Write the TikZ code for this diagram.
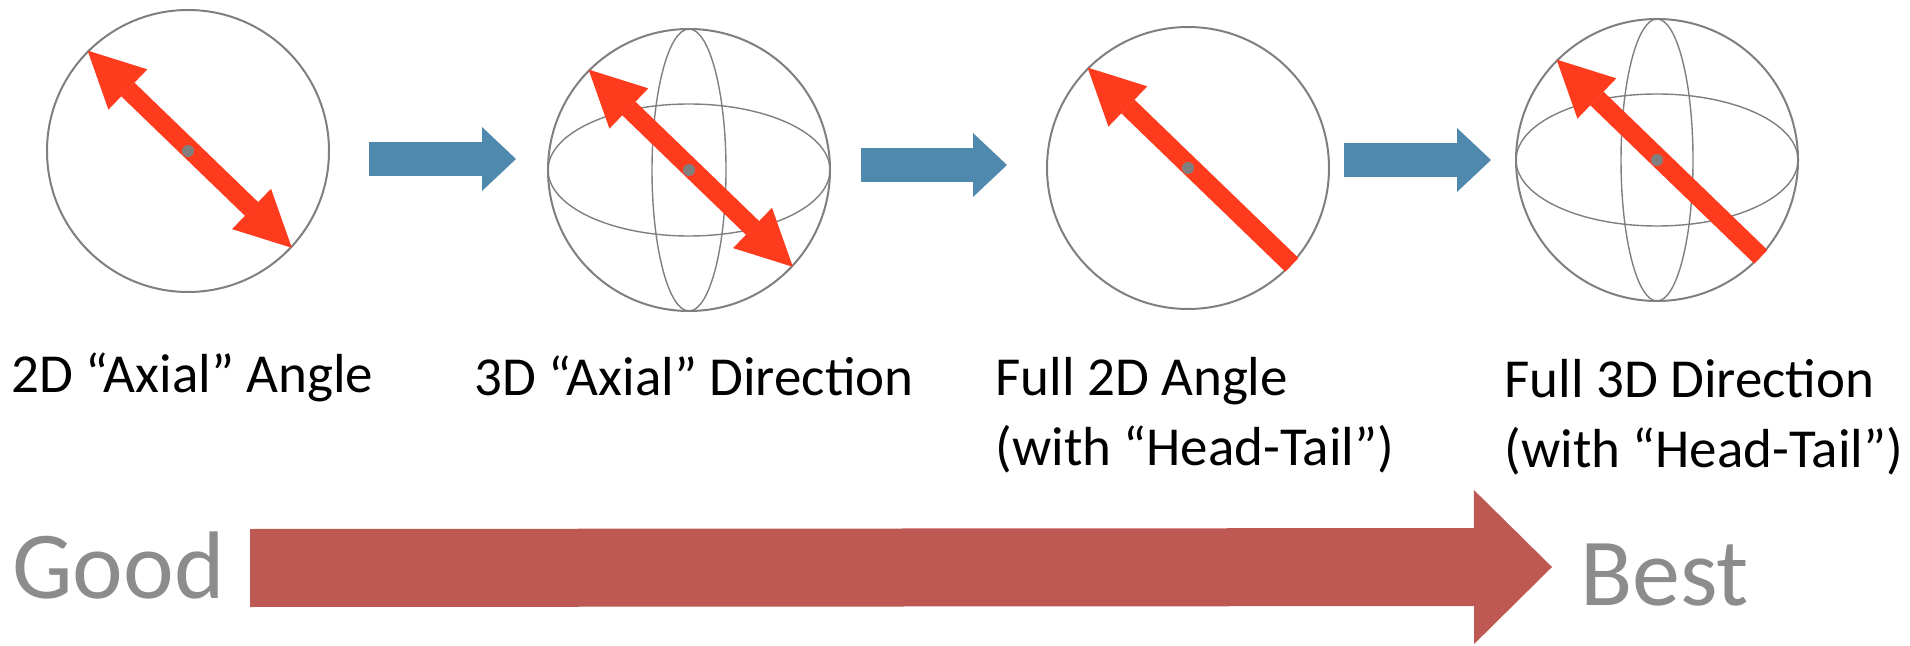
\documentclass[tikz,border=0pt]{standalone}
\usepackage{fontspec}
\setmainfont{Carlito}
\usetikzlibrary{arrows.meta}
\definecolor{ringgray}{HTML}{7F7F7F}
\definecolor{vecred}{HTML}{FF3B1E}
\definecolor{flowblue}{HTML}{5089AE}
\definecolor{rankred}{HTML}{BE5853}
\definecolor{rankgray}{HTML}{8C8C8C}

\begin{document}
\begin{tikzpicture}[x=0.5pt, y=-0.5pt,
  ring/.style={circle, draw=ringgray, line width=1pt, minimum size=141pt, inner sep=0pt},
  meridian/.style={draw=ringgray, line width=0.7pt},
  pivot/.style={fill=ringgray},
  axial/.style={draw=vecred, line width=9.5pt, {Triangle[length=28pt, width=28pt, line width=0pt]}-{Triangle[length=28pt, width=28pt, line width=0pt]}},
  headtail/.style={draw=vecred, line width=9.5pt, -{Triangle[length=28pt, width=28pt, line width=0pt]}},
  flow/.style={draw=flowblue, line width=17pt, -{Triangle[length=17pt, width=32pt, line width=0pt]}},
  progress/.style={draw=rankred, line width=39pt, -{Triangle[length=39pt, width=77pt, line width=0pt]}},
  caption/.style={font=\fontsize{27.5}{35}\selectfont, inner sep=0pt, align=left, anchor=base west},
  rank/.style={font=\fontsize{48}{56}\selectfont, text=rankgray, inner sep=0pt, anchor=base west},
]
\useasboundingbox (0,0) rectangle (1910,646);

% the four spheres
\node[ring] (c1) at (188,151)  {};
\node[ring] (c2) at (689,170)  {};
\node[ring] (c3) at (1188,168) {};
\node[ring] (c4) at (1657,160) {};

\draw[meridian] (c2.center) ellipse [x radius=141, y radius=66];
\draw[meridian] (c2.center) ellipse [x radius=37, y radius=141];
\draw[meridian] (c4.center) ellipse [x radius=141, y radius=66];
\draw[meridian] (c4.center) ellipse [x radius=36, y radius=141];

% orientation vectors
\draw[axial]    (c1.135) -- (c1.-43);
\draw[axial]    (c2.135) -- (c2.-43);
\draw[headtail] (c3.-43) -- (c3.135);
\draw[headtail] (c4.-43) -- (c4.135);

\fill[pivot] (c1.center) circle (6);
\fill[pivot] (c2.center) circle (6);
\fill[pivot] (c3.center) circle (6);
\fill[pivot] (c4.center) circle (6);

\draw[flow] ([shift={(39,8)}]c1.east)  -- ([shift={(-31,-11)}]c2.west);
\draw[flow] ([shift={(30,-5)}]c2.east) -- ([shift={(-39,-3)}]c3.west);
\draw[flow] ([shift={(14,-8)}]c3.east) -- ([shift={(-24,0)}]c4.west);

% labels (two-line ones sit on their last baseline)
\node[caption] (l1) at (11,393)   {2D “Axial” Angle};
\node[caption] (l2) at (474,395)  {3D “Axial” Direction};
\node[caption] (l3) at (995,465)  {Full 2D Angle\\(with “Head-Tail”)};
\node[caption] (l4) at (1504,467) {Full 3D Direction\\(with “Head-Tail”)};

% good to best scale
\node[rank] (good) at (12,598)   {Good};
\node[rank] (best) at (1580,605) {Best};
\draw[progress] ([shift={(25,-30)}]good.base east) -- ([shift={(-28,-38)}]best.base west);
\end{tikzpicture}
\end{document}
